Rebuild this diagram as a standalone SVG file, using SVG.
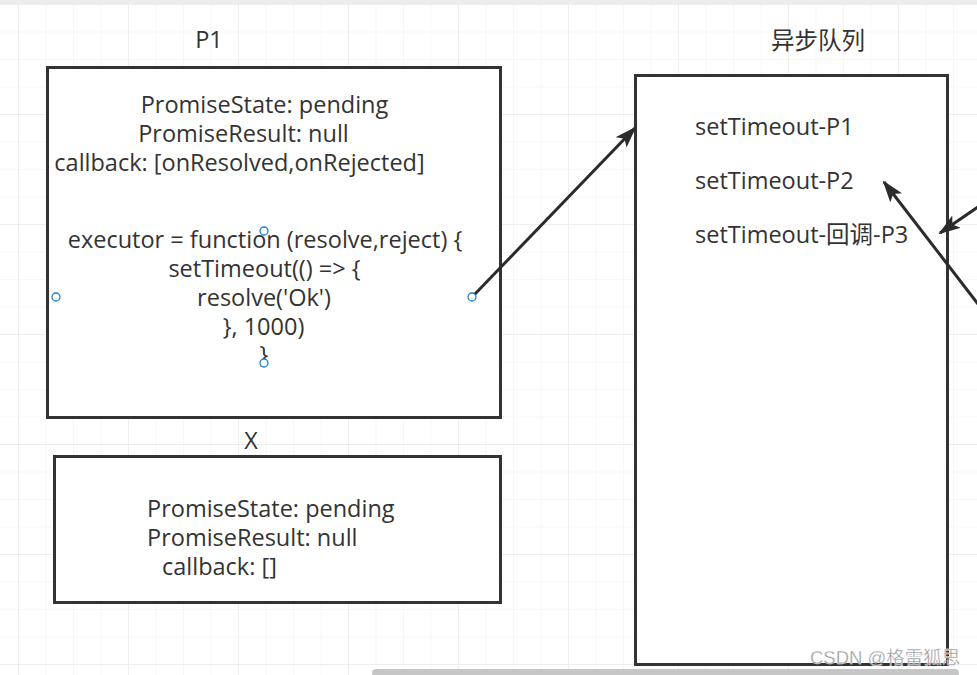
<svg xmlns="http://www.w3.org/2000/svg" width="977" height="675" viewBox="0 0 977 675">
<defs>
<pattern id="grid" x="18" y="4" width="27.5" height="27.5" patternUnits="userSpaceOnUse">
<path d="M0 0H27.5M0 0V27.5" fill="none" stroke="#efefef" stroke-width="1"/>
</pattern>
<pattern id="grid4" x="18" y="4" width="110" height="110" patternUnits="userSpaceOnUse">
<path d="M0 0H110M0 0V110" fill="none" stroke="#e6e6e6" stroke-width="1"/>
</pattern>
<marker id="arrow" viewBox="0 0 22 15" refX="20" refY="7.5" markerWidth="22" markerHeight="15" markerUnits="userSpaceOnUse" orient="auto">
<path d="M0 0L22 7.5L0 15L5 7.5Z" fill="#2b2b2b"/>
</marker>
<style>
.box{fill:#fff;stroke:#333;stroke-width:3}
.t{font-family:"Open Sans","Noto Sans","Noto Sans CJK SC",sans-serif;font-size:23.5px;fill:#333}
.c{text-anchor:middle}
.pt{fill:#fff;stroke:#1a7fd4;stroke-width:1.3}
.edge{fill:none;stroke:#2b2b2b;stroke-width:3;marker-end:url(#arrow)}
</style>
</defs>
<rect width="977" height="675" fill="#fff"/>
<rect width="977" height="675" fill="url(#grid)"/>
<rect width="977" height="675" fill="url(#grid4)"/>
<rect x="0" y="0" width="977" height="4" fill="#ececec"/>

<g id="p1">
<text class="t c" x="209" y="48">P1</text>
<rect class="box" x="47.5" y="67.5" width="453" height="350"/>
<text class="t c" x="264.5" y="113">PromiseState: pending</text>
<text class="t c" x="243.5" y="142">PromiseResult: null</text>
<text class="t c" x="239.5" y="171">callback: [onResolved,onRejected]</text>
<text class="t c" x="265" y="248">executor = function (resolve,reject) {</text>
<text class="t c" x="264.5" y="277">setTimeout(() =&gt; {</text>
<text class="t c" x="264" y="306">resolve('Ok')</text>
<text class="t c" x="263.5" y="335">}, 1000)</text>
<text class="t c" x="264" y="363">}</text>
<circle class="pt" cx="264" cy="231" r="4"/>
<circle class="pt" cx="56" cy="297" r="4"/>
<circle class="pt" cx="472" cy="297" r="4"/>
<circle class="pt" cx="264" cy="363" r="4"/>
</g>

<g id="x">
<text class="t c" x="251" y="449">X</text>
<rect class="box" x="54.5" y="456.5" width="446" height="146"/>
<text class="t" x="147" y="517">PromiseState: pending</text>
<text class="t" x="147" y="546">PromiseResult: null</text>
<text class="t" x="162" y="575">callback: []</text>
</g>

<g id="queue">
<text class="t c" x="818" y="49">异步队列</text>
<rect class="box" x="635.5" y="75.5" width="312" height="589"/>
<text class="t" x="695" y="135">setTimeout-P1</text>
<text class="t" x="695" y="189">setTimeout-P2</text>
<text class="t" x="695" y="243">setTimeout-回调-P3</text>
</g>

<g id="connectors">
<path class="edge" d="M475 294L635 128"/>
<path class="edge" d="M978 304L884 182"/>
<path class="edge" d="M978 207L940 233"/>
</g>

<rect x="372" y="669" width="587" height="8" rx="4" fill="#c6c6c6"/>
<text x="810" y="664" font-family="'Liberation Sans','Noto Sans CJK SC',sans-serif" font-size="18.5" fill="#9a9a9a" stroke="#fff" stroke-width="0.3">CSDN @格雷狐思</text>
</svg>
